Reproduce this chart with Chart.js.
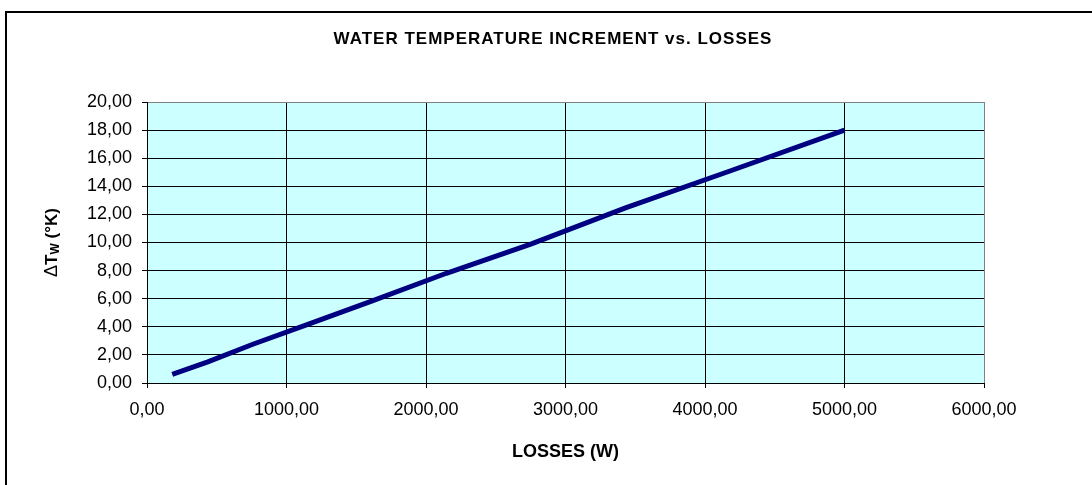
<!DOCTYPE html>
<html>
<head>
<meta charset="utf-8">
<script src="https://cdn.jsdelivr.net/npm/chart.js@4.4.0/dist/chart.umd.min.js"></script>
<style>
  body { margin:0; background:#fff; }
  #wrap { width:1092px; height:485px; }
</style>
</head>
<body>
<div id="wrap"><canvas id="myChart" width="1092" height="485"></canvas></div>
<script>
// data
var lossesW = [181, 436, 759, 1153, 1615, 2146, 2756, 3430, 4174, 5000];
var deltaTw = [0.62, 1.50, 2.76, 4.17, 5.85, 7.81, 9.90, 12.46, 15.07, 18.00];
var xTicks = [0, 1000, 2000, 3000, 4000, 5000, 6000];
var yTicks = [0, 2, 4, 6, 8, 10, 12, 14, 16, 18, 20];

var FONT = "'Liberation Sans', Arial, sans-serif";

function fmt(v){
	return Number(v).toFixed(2).replace('.', ',');
}

// background, frame, title and y label
var decor = {
	id: 'decor',
	beforeDraw: function(chart){
		var c = chart.ctx, a = chart.chartArea;
		c.save();
		c.fillStyle = '#fff';
		c.fillRect(0, 0, chart.width, chart.height);
		c.fillStyle = '#CCFFFF';
		c.fillRect(a.left, a.top, a.right - a.left, a.bottom - a.top);
		c.strokeStyle = '#000';
		c.lineWidth = 2;
		c.strokeRect(6, 12, 1200, 600);
		c.restore();
	},
	afterDraw: function(chart){
		var c = chart.ctx, a = chart.chartArea;
		c.save();
		c.fillStyle = '#000';
		c.textBaseline = 'middle';
		c.textAlign = 'center';
		c.font = 'bold 17px ' + FONT;
		c.letterSpacing = '1px';
		c.fillText('WATER TEMPERATURE INCREMENT vs. LOSSES', 553, 39);
		c.letterSpacing = '0px';

		// ΔTw (°K), rotated
		c.translate(52, (a.top + a.bottom) / 2);
		c.rotate(-Math.PI / 2);
		var parts = [
			{t:'\u0394', f:'18px ' + FONT, dy:0},
			{t:'T', f:'bold 17px ' + FONT, dy:0},
			{t:'W', f:'bold 12px ' + FONT, dy:4},
			{t:' (\u00B0K)', f:'bold 17px ' + FONT, dy:0}
		];
		var total = 0;
		parts.forEach(function(p){ c.font = p.f; p.w = c.measureText(p.t).width; total += p.w; });
		var x = -total / 2;
		c.textAlign = 'left';
		parts.forEach(function(p){
			c.font = p.f;
			c.fillText(p.t, x, p.dy);
			x += p.w;
		});
		c.restore();
	}
};

document.addEventListener("DOMContentLoaded", function(){

	var pts = lossesW.map(function(v, i){ return {x: v, y: deltaTw[i]}; });

	new Chart('myChart', {
		type: 'line',
		data: {
			datasets: [{
				label: 'ΔTw',
				data: pts,
				borderColor: '#000080',
				borderWidth: 5,
				pointRadius: 0,
				tension: 0,
				fill: false
			}]
		},
		options: {
			responsive: false,
			animation: false,
			devicePixelRatio: 1,
			layout: { padding: { top: 102, right: 108, left: 0, bottom: 0 } },
			plugins: {
				legend: { display: false },
				tooltip: { enabled: false },
				title: { display: false }
			},
			scales: {
				x: {
					type: 'linear',
					min: 0, max: 6000,
					afterBuildTicks: function(s){ s.ticks = xTicks.map(function(v){ return {value: v}; }); },
					afterFit: function(s){ s.height = 102; },
					ticks: {
						padding: 11,
						color: '#000',
						font: { family: FONT, size: 18 },
						callback: function(v){ return fmt(v); }
					},
					grid: {
						color: function(ctx){ return ctx.tick && ctx.tick.value === 6000 ? '#808080' : '#000'; },
						lineWidth: 1,
						tickLength: 5,
						tickColor: '#000'
					},
					border: { color: '#000', width: 1 },
					title: {
						display: true,
						text: 'LOSSES (W)',
						color: '#000',
						font: { family: FONT, size: 18, weight: 'bold' },
						padding: { top: 0, bottom: 22 }
					}
				},
				y: {
					min: 0, max: 20,
					afterBuildTicks: function(s){ s.ticks = yTicks.map(function(v){ return {value: v}; }); },
					afterFit: function(s){ s.width = 147; },
					ticks: {
						padding: 10,
						color: '#000',
						font: { family: FONT, size: 18 },
						callback: function(v){ return fmt(v); }
					},
					grid: {
						color: function(ctx){ return ctx.tick && ctx.tick.value === 20 ? '#808080' : '#000'; },
						lineWidth: 1,
						tickLength: 5,
						tickColor: '#000'
					},
					border: { color: '#000', width: 1 }
				}
			}
		},
		plugins: [decor]
	});
});
</script>
</body>
</html>
